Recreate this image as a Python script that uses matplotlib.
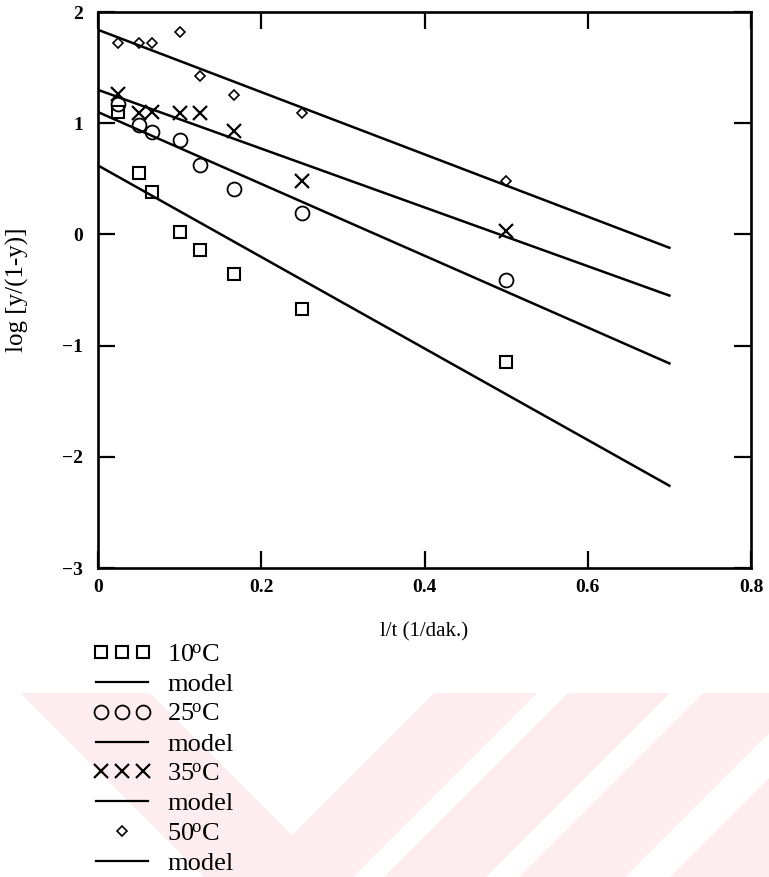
import matplotlib
matplotlib.use("Agg")
import matplotlib.pyplot as plt
from matplotlib.lines import Line2D
from matplotlib.patches import Polygon
from matplotlib.legend_handler import HandlerLine2D

plt.rcParams['font.family'] = ['Liberation Serif', 'DejaVu Serif']
plt.rcParams['mathtext.fontset'] = 'custom'
plt.rcParams['mathtext.rm'] = 'Liberation Serif'
plt.rcParams['mathtext.it'] = 'Liberation Serif:italic'

# 1/t values (1/min) for sampling times of 40, 20, 15, 10, 8, 6, 4 and 2 minutes
inv_t = [0.025, 0.05, 0.0667, 0.1, 0.125, 0.1667, 0.25, 0.5]

# measured log[y/(1-y)] at each temperature
obs_10 = [1.10, 0.55, 0.38, 0.02, -0.14, -0.36, -0.67, -1.15]
obs_25 = [1.17, 0.98, 0.92, 0.85, 0.62, 0.41, 0.19, -0.41]
obs_35 = [1.26, 1.09, 1.10, 1.09, 1.09, 0.93, 0.48, 0.03]
obs_50 = [1.72, 1.72, 1.72, 1.82, 1.42, 1.25, 1.09, 0.48]

# model lines (end points)
model_x = [0.0, 0.7]
model_10 = [0.62, -2.26]
model_25 = [1.10, -1.16]
model_35 = [1.30, -0.55]
model_50 = [1.84, -0.12]

x_ticks = [0, 0.2, 0.4, 0.6, 0.8]
x_tick_labels = ['0', '0.2', '0.4', '0.6', '0.8']
y_ticks = [-3, -2, -1, 0, 1, 2]
y_tick_labels = ['\u22123', '\u22122', '\u22121', '0', '1', '2']

W, H = 769, 877
fig = plt.figure(figsize=(W / 100, H / 100), dpi=100)

# faint background watermark bands in the lower part of the page
wm_color = '#fdedf0'
y_top, y_bot = 693, 877
def band_slash(a, b):
    return [(a - y_top, y_top), (b - y_top, y_top), (b - y_bot, y_bot), (a - y_bot, y_bot)]
def band_back(a, b):
    return [(y_top + a, y_top), (y_top + b, y_top), (y_bot + b, y_bot), (y_bot + a, y_bot)]
bands = [band_back(-673, -543), band_slash(1127, 1230), band_slash(1261, 1363),
         band_slash(1396, 1502), band_slash(1547, 1760)]
for poly in bands:
    pts = [(px / W, 1 - py / H) for px, py in poly]
    fig.add_artist(Polygon(pts, closed=True, transform=fig.transFigure,
                           facecolor=wm_color, edgecolor='none', zorder=0))

ax = fig.add_axes([98 / W, 1 - 568 / H, (751 - 98) / W, (568 - 12) / H])
ax.set_zorder(2)
ax.patch.set_alpha(0)

lw_line = 1.8
ax.plot(inv_t, obs_10, linestyle='none', marker='s', ms=8.5, mfc='none', mec='black', mew=1.5)
ax.plot(model_x, model_10, color='black', lw=lw_line)
ax.plot(inv_t, obs_25, linestyle='none', marker='o', ms=10, mfc='none', mec='black', mew=1.3)
ax.plot(model_x, model_25, color='black', lw=lw_line)
ax.plot(inv_t, obs_35, linestyle='none', marker='x', ms=10, mec='black', mew=1.6)
ax.plot(model_x, model_35, color='black', lw=lw_line)
ax.plot(inv_t, obs_50, linestyle='none', marker='D', ms=5, mfc='none', mec='black', mew=1.2)
ax.plot(model_x, model_50, color='black', lw=lw_line)

ax.set_xlim(0, 0.8)
ax.set_ylim(-3, 2)
ax.set_xticks(x_ticks)
ax.set_xticklabels(x_tick_labels)
ax.set_yticks(y_ticks)
ax.set_yticklabels(y_tick_labels)
for s in ax.spines.values():
    s.set_linewidth(1.9)
ax.tick_params(axis='both', direction='in', length=12, width=1.6,
               top=True, right=True, labelsize=14)
ax.tick_params(axis='x', pad=8)
ax.tick_params(axis='y', pad=11)
for lab in ax.get_xticklabels() + ax.get_yticklabels():
    lab.set_fontweight('bold')

ax.set_xlabel('l/t (1/dak.)', fontsize=15)
ax.xaxis.set_label_coords(0.5, -0.097)
ax.set_ylabel('log [y/(1-y)]', fontsize=18)
ax.yaxis.set_label_coords(-0.105, 0.5)

# legend below the plot
h10 = Line2D([], [], linestyle='none', marker='s', ms=8.5, mfc='none', mec='black', mew=1.5)
h25 = Line2D([], [], linestyle='none', marker='o', ms=10, mfc='none', mec='black', mew=1.3)
h35 = Line2D([], [], linestyle='none', marker='x', ms=10, mec='black', mew=1.6)
h50 = Line2D([], [], linestyle='none', marker='D', ms=5, mfc='none', mec='black', mew=1.2)
hm = [Line2D([], [], color='black', lw=1.6) for _ in range(4)]
handles = [h10, hm[0], h25, hm[1], h35, hm[2], h50, hm[3]]
deg = r'$^{\!\mathrm{o}}$'
labels = ['10' + deg + 'C', 'model', '25' + deg + 'C', 'model',
          '35' + deg + 'C', 'model', '50' + deg + 'C', 'model']
triple = HandlerLine2D(numpoints=3, marker_pad=0.2)
single = HandlerLine2D(numpoints=1)
hmap = {h10: triple, h25: triple, h35: triple, h50: single}
for h in hm:
    hmap[h] = single
leg = fig.legend(handles, labels, loc='upper left',
                 bbox_to_anchor=(96 / W, 1 - 643 / H), frameon=False,
                 fontsize=19, handlelength=1.97, handletextpad=0.72,
                 labelspacing=0.24, borderpad=0, borderaxespad=0,
                 handler_map=hmap)

fig.savefig('out.png', dpi=100)
